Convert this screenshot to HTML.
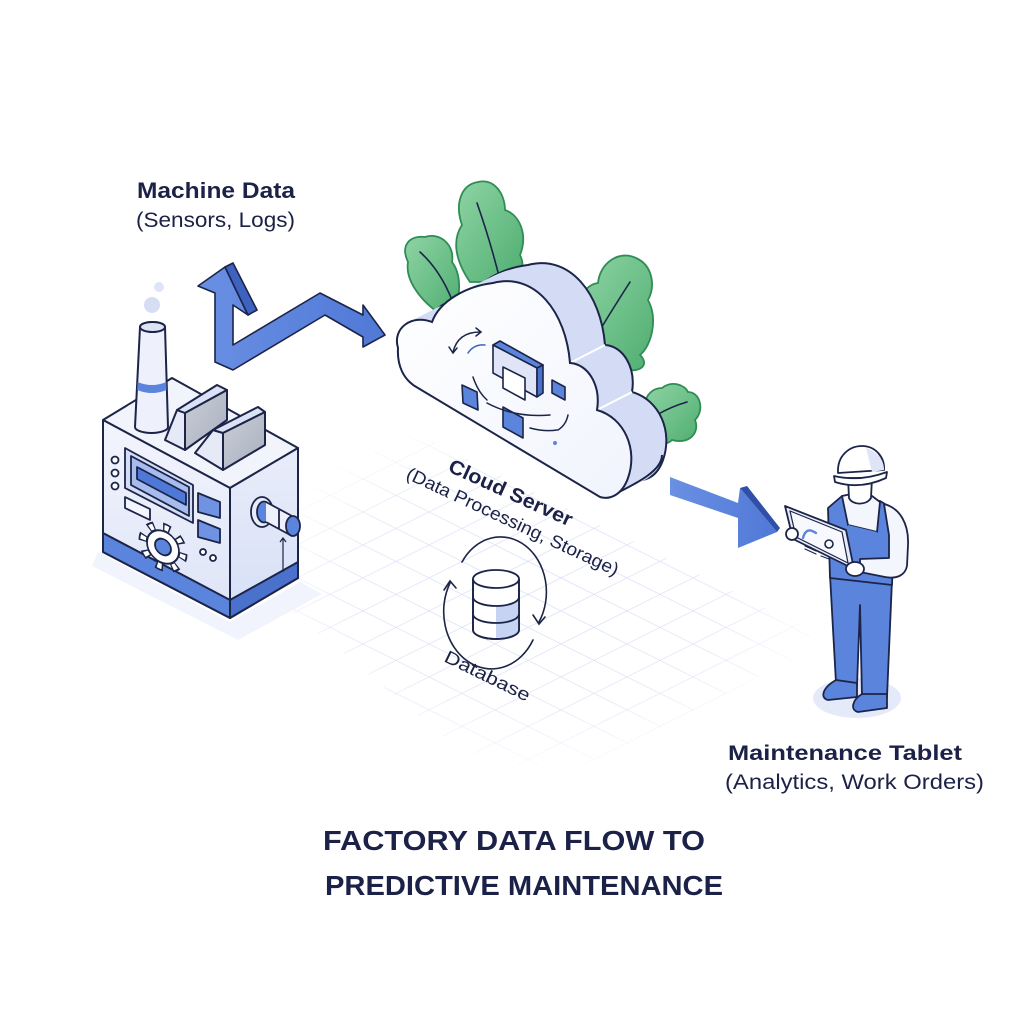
<!DOCTYPE html>
<html><head><meta charset="utf-8"><style>
html,body{margin:0;padding:0;background:#fff;}
svg{display:block;}
text{font-family:"Liberation Sans",sans-serif;fill:#1b2147;}
</style></head><body>
<svg width="1024" height="1024" viewBox="0 0 1024 1024" xmlns="http://www.w3.org/2000/svg">
<defs>
  <pattern id="grid" width="33" height="33" patternUnits="userSpaceOnUse" patternTransform="matrix(1,0.5,-1,0.5,0,0)">
    <path d="M0,0 H33 M0,0 V33" stroke="#d3dbf4" stroke-width="1.5" fill="none"/>
  </pattern>
  <radialGradient id="fade" cx="0.5" cy="0.5" r="0.5">
    <stop offset="0" stop-color="#fff" stop-opacity="1"/>
    <stop offset="0.65" stop-color="#fff" stop-opacity="0.75"/>
    <stop offset="1" stop-color="#fff" stop-opacity="0"/>
  </radialGradient>
  <mask id="gmask"><ellipse cx="540" cy="590" rx="300" ry="185" fill="url(#fade)"/></mask>
  <linearGradient id="frontF" x1="0" y1="0" x2="0" y2="1">
    <stop offset="0" stop-color="#f3f5fd"/><stop offset="1" stop-color="#dde4f7"/>
  </linearGradient>
  <linearGradient id="rightF" x1="0" y1="0" x2="0" y2="1">
    <stop offset="0" stop-color="#e9edfa"/><stop offset="1" stop-color="#d6dff6"/>
  </linearGradient>
  <linearGradient id="gray" x1="0" y1="0" x2="1" y2="1">
    <stop offset="0" stop-color="#c9ced9"/><stop offset="1" stop-color="#a9afbd"/>
  </linearGradient>
  <linearGradient id="leaf" x1="0" y1="0" x2="1" y2="1">
    <stop offset="0" stop-color="#8fd4a5"/><stop offset="1" stop-color="#4fae70"/>
  </linearGradient>
  <linearGradient id="cloudF" x1="0" y1="0" x2="1" y2="1">
    <stop offset="0" stop-color="#ffffff"/><stop offset="1" stop-color="#f1f4fd"/>
  </linearGradient>
  <linearGradient id="arrowG" x1="0" y1="0" x2="1" y2="0">
    <stop offset="0" stop-color="#6a90e3"/><stop offset="1" stop-color="#5078d6"/>
  </linearGradient>
  <path id="cloud" d="M398,348 C392,328 412,314 432,322 C440,300 468,286 493,283 C535,272 566,312 570,363 C588,364 601,385 597,410 C625,418 638,450 628,478 C622,495 610,500 600,497 L418,388 C403,380 397,365 398,348 Z"/>
</defs>

<rect width="1024" height="1024" fill="#fff"/>

<!-- Grid -->
<g mask="url(#gmask)">
  <polygon points="370,410 830,640 520,800 230,560" fill="url(#grid)"/>
</g>

<!-- Factory ground shadow -->
<polygon points="98,552 230,622 300,582 322,594 238,640 92,566" fill="#e7ecfa" opacity="0.6"/>

<!-- Factory arrow -->
<g stroke="#1c2448" stroke-width="1.6" stroke-linejoin="round">
  <polygon points="215,362 215,293 198,286 225,267 248,315 233,305 233,345 320,293 363,315 363,305 385,335 363,347 363,337 325,315 233,370" fill="url(#arrowG)"/>
  <polygon points="225,267 233,263 257,310 248,315" fill="#3d62bf"/>
</g>

<!-- Smoke -->
<circle cx="159" cy="287" r="5" fill="#dfe5f8"/>
<circle cx="152" cy="305" r="8" fill="#d6def6"/>

<!-- Factory box -->
<g stroke="#1c2448" stroke-width="2" stroke-linejoin="round">
  <polygon points="103,420 172,378 298,448 230,488" fill="#f2f4fc"/>
  <polygon points="103,420 230,488 230,618 103,552" fill="url(#frontF)"/>
  <polygon points="230,488 298,448 298,578 230,618" fill="url(#rightF)"/>
  <polygon points="103,533 230,600 230,618 103,552" fill="#5b84dc"/>
  <polygon points="230,600 298,562 298,578 230,618" fill="#4a71cc"/>
</g>
<!-- Chimney -->
<g stroke="#1c2448" stroke-width="2">
  <path d="M135,427 L140,327 A12.5,5 0 0 1 165,327 L168,427 A16.5,6 0 0 1 135,427 Z" fill="#eef1fb"/>
  <ellipse cx="152.5" cy="327" rx="12.5" ry="5" fill="#dde3f5"/>
</g>
<path d="M137.6,382 Q152,388 166.2,382 L166.5,390 Q152,396 137.2,390 Z" fill="#5b84dc"/>
<!-- Vents -->
<g stroke="#1c2448" stroke-width="2" stroke-linejoin="round">
  <polygon points="165,440 177,410 185,413 185,450" fill="#e6eaf6"/>
  <polygon points="177,410 217,385 227,390 185,413" fill="#dbe2f6"/>
  <polygon points="185,413 227,390 227,420 185,450" fill="url(#gray)"/>
  <polygon points="195,453 213,430 223,433 223,470" fill="#e6eaf6"/>
  <polygon points="213,430 258,407 265,412 223,433" fill="#dbe2f6"/>
  <polygon points="223,433 265,412 265,445 223,470" fill="url(#gray)"/>
</g>
<!-- Front panel details -->
<g stroke="#1c2448" stroke-width="1.8" stroke-linejoin="round">
  <polygon points="125,448 193,485 193,523 125,488" fill="#d3ddf6"/>
  <polygon points="131,456 189,487 189,516 131,485" fill="#a7bcee"/>
  <polygon points="137,467 186,493 186,505 137,479" fill="#4f79d8"/>
  <polygon points="125,497 150,509 150,520 125,508" fill="#f4f6fd"/>
  <circle cx="115" cy="460" r="3.5" fill="#fff"/>
  <circle cx="115" cy="473" r="3.5" fill="#fff"/>
  <circle cx="115" cy="486" r="3.5" fill="#fff"/>
  <polygon points="198,493 220,502 220,518 198,512" fill="#6f93e2"/>
  <polygon points="198,520 220,529 220,543 198,537" fill="#6f93e2"/>
  <circle cx="203" cy="552" r="3" fill="#fff"/>
  <circle cx="213" cy="558" r="3" fill="#fff"/>
</g>
<!-- Gear -->
<g transform="translate(163,547) matrix(1,0.3,0,1,0,0)">
  <circle r="20" fill="none" stroke="#1c2448" stroke-width="9" stroke-dasharray="7 8.7"/>
  <circle r="20" fill="none" stroke="#fff" stroke-width="5.5" stroke-dasharray="4.2 11.5" stroke-dashoffset="-1.4"/>
  <circle r="16" fill="#fff" stroke="#1c2448" stroke-width="1.8"/>
  <circle r="8" fill="#5b84dc" stroke="#1c2448" stroke-width="1.8"/>
</g>
<!-- Knob -->
<g stroke="#1c2448" stroke-width="1.8">
  <ellipse cx="262" cy="512" rx="11" ry="15" fill="#e8edfa"/>
  <ellipse cx="264" cy="512" rx="7" ry="10.5" fill="#5b84dc"/>
  <polygon points="266,502 292,516 292,536 266,522" fill="#eef1fb" stroke="none"/>
  <path d="M266,502 L292,516 M266,522 L292,536 M279,509 L279,529" fill="none"/>
  <ellipse cx="293" cy="526" rx="7" ry="10" fill="#5b84dc"/>
  <path d="M283,538 L283,572 M280,542 L283,538 L286,542" fill="none" stroke-width="1.2"/>
</g>

<!-- Leaves -->
<g stroke="#2f8c55" stroke-width="1.8" fill="url(#leaf)">
  <path d="M470,282 C455,260 452,240 462,225 C455,205 460,185 478,182 C495,178 505,195 505,210 C520,215 528,235 520,255 C525,265 522,275 515,282 Z"/>
  <path d="M440,314 C420,300 405,280 408,262 C400,245 410,235 425,237 C440,232 455,245 452,262 C462,275 460,295 455,312 Z"/>
  <path d="M580,322 C575,300 585,285 598,283 C600,262 620,250 636,258 C652,265 656,285 648,300 C658,318 652,345 640,355 C650,365 640,372 628,370 L600,342 Z"/>
  <path d="M648,432 C638,410 645,388 662,388 C672,380 685,385 688,392 C700,392 705,410 695,420 C700,432 690,445 672,440 C665,447 650,445 648,432 Z"/>
</g>
<g stroke="#1c2448" stroke-width="1.6" fill="none" stroke-linecap="round">
  <path d="M477,203 Q490,240 500,280"/>
  <path d="M420,252 Q440,270 452,300"/>
  <path d="M630,282 Q612,310 600,330"/>
  <path d="M687,402 Q670,407 657,415"/>
</g>

<!-- Cloud extrusion -->
<g fill="#d4dcf5">
  <use href="#cloud" transform="translate(35,-18)" stroke="#1c2448" stroke-width="2"/>
  <use href="#cloud" transform="translate(31,-16)"/>
  <use href="#cloud" transform="translate(27,-14)"/>
  <use href="#cloud" transform="translate(23,-12)"/>
  <use href="#cloud" transform="translate(19,-10)"/>
  <use href="#cloud" transform="translate(15,-8)"/>
  <use href="#cloud" transform="translate(11,-6)"/>
  <use href="#cloud" transform="translate(7,-4)"/>
  <use href="#cloud" transform="translate(3,-2)"/>
</g>
<path d="M570,363 L605,345 M597,410 L632,392" stroke="#fff" stroke-width="2"/>
<path d="M609,497 C640,482 662,470 662,455" fill="none" stroke="#1c2448" stroke-width="2"/>
<use href="#cloud" fill="url(#cloudF)" stroke="#1c2448" stroke-width="2"/>

<!-- Cloud icons -->
<g stroke="#1c2448" stroke-width="1.6" stroke-linejoin="round">
  <polygon points="493,345 500,341 543,365 537,368" fill="#5b84dc"/>
  <polygon points="493,345 537,368 537,397 493,373" fill="#dfe5f7"/>
  <polygon points="537,368 543,365 543,393 537,397" fill="#4a71cc"/>
  <polygon points="503,367 525,378 525,400 503,388" fill="#fff"/>
  <polygon points="462,385 477,392 478,410 463,403" fill="#5b84dc"/>
  <polygon points="503,407 523,418 523,438 503,427" fill="#5b84dc"/>
  <polygon points="552,380 565,387 565,400 552,393" fill="#5b84dc"/>
</g>
<g fill="none" stroke="#1c2448" stroke-width="1.5" stroke-linecap="round">
  <path d="M453,352 Q458,332 480,332"/>
  <path d="M476,328 L481,332 L476,336 M449,347 L453,353 L457,348"/>
  <path d="M468,353 Q474,344 485,345" stroke="#3f64c0"/>
  <path d="M473,377 Q478,392 487,400"/>
  <path d="M487,403 Q515,418 550,415"/>
  <path d="M530,428 Q545,432 557,430"/>
  <path d="M568,415 Q566,425 558,430"/>
</g>
<circle cx="555" cy="443" r="2" fill="#5b84dc"/>

<!-- Database -->
<g stroke="#1c2448" stroke-width="1.8">
  <path d="M473,579 L473,630 A23,9 0 0 0 519,630 L519,579" fill="#fff"/>
  <path d="M496,606 L496,638 A23,9 0 0 0 519,630 L519,600 A23,9 0 0 1 496,606 Z" fill="#c6d3f3" stroke="none"/>
  <path d="M473,579 L473,630 A23,9 0 0 0 519,630 L519,579" fill="none"/>
  <ellipse cx="496" cy="579" rx="23" ry="9" fill="#fff"/>
  <path d="M473,597 A23,9 0 0 0 519,597 M473,614 A23,9 0 0 0 519,614" fill="none"/>
</g>
<g fill="none" stroke="#1c2448" stroke-width="1.6" stroke-linecap="round">
  <path d="M462,562 A45,54 0 0 1 539,622"/>
  <path d="M533,615 L539,624 L545,617"/>
  <path d="M533,640 A45,54 0 0 1 450,583"/>
  <path d="M444,590 L450,581 L456,588"/>
</g>

<!-- Arrow to worker -->
<polygon points="670,477 738,503 740,488 777,532 738,548 738,518 670,495" fill="url(#arrowG)"/>
<polygon points="740,488 747,486 780,528 777,532" fill="#2f4fa8"/>

<!-- Worker -->
<ellipse cx="857" cy="698" rx="44" ry="20" fill="#e5eafa"/>
<g stroke="#1c2448" stroke-width="1.8" stroke-linejoin="round">
  <!-- legs -->
  <path d="M830,575 L836,683 L857,686 L860,605 L862,697 L887,697 L892,580 Z" fill="#5b84dc"/>
  <!-- boots -->
  <path d="M836,680 L857,683 L857,697 L828,700 C820,698 822,688 836,680 Z" fill="#5b84dc"/>
  <path d="M862,694 L887,694 L887,708 L858,712 C850,710 852,700 862,694 Z" fill="#5b84dc"/>
  <!-- torso -->
  <polygon points="828,508 842,496 880,501 895,510 892,585 830,578" fill="#5b84dc"/>
  <polygon points="842,496 856,493 872,496 880,502 877,532 848,525" fill="#f4f6fd"/>
  <polygon points="848,525 877,532 878,545 849,538" fill="#5b84dc" stroke="none"/>
  <!-- right arm -->
  <path d="M884,504 C900,508 909,524 908,545 L907,566 C905,576 896,579 885,577 L860,572 L860,559 L889,558 L889,535 Z" fill="#f4f6fd"/>
  <!-- head -->
  <path d="M848,478 L849,498 C852,505 866,506 871,498 L872,478 Z" fill="#fff"/>
  <path d="M838,473 C837,455 850,446 862,446 C876,446 885,458 884,470 Z" fill="#fff"/>
  <path d="M866,448 C878,452 884,460 884,470 L872,472 Z" fill="#dfe5f7" stroke="none"/>
  <path d="M834,476 Q860,482 887,472 L886,478 Q860,490 835,482 Z" fill="#fff"/>
  <!-- tablet -->
  <polygon points="785,506 846,530 854,569 793,539" fill="#e6ebfa"/>
  <polygon points="790,511 842,532 848,563 796,537" fill="#f8f9fe" stroke-width="1.2"/>
  <ellipse cx="855" cy="569" rx="9" ry="7" fill="#fff"/>
  <ellipse cx="792" cy="534" rx="6" ry="6" fill="#fff"/>
</g>
<g fill="none" stroke-width="1.6" stroke-linecap="round">
  <path d="M803,538 Q806,526 816,533" stroke="#5b84dc" stroke-width="2.4"/>
  <circle cx="829" cy="544" r="4" stroke="#1c2448"/>
  <path d="M805,546 L816,551 M805,549 L816,554 M821,556 L829,559" stroke="#1c2448" stroke-width="1.2"/>
</g>

<!-- Labels -->
<text x="137" y="198" font-size="22" font-weight="bold" textLength="158" lengthAdjust="spacingAndGlyphs">Machine Data</text>
<text x="136" y="227" font-size="21" textLength="159" lengthAdjust="spacingAndGlyphs">(Sensors, Logs)</text>

<text transform="translate(447,471) rotate(24.5)" font-size="20" font-weight="bold" textLength="134" lengthAdjust="spacingAndGlyphs">Cloud Server</text>
<text transform="translate(405,478) rotate(25)" font-size="18" textLength="232" lengthAdjust="spacingAndGlyphs">(Data Processing, Storage)</text>
<text transform="translate(443,661) rotate(26)" font-size="18" textLength="93" lengthAdjust="spacingAndGlyphs">Database</text>

<text x="728" y="760" font-size="21" font-weight="bold" textLength="234" lengthAdjust="spacingAndGlyphs">Maintenance Tablet</text>
<text x="725" y="789" font-size="21" textLength="259" lengthAdjust="spacingAndGlyphs">(Analytics, Work Orders)</text>

<text x="323" y="850" font-size="28" font-weight="bold" textLength="382" lengthAdjust="spacingAndGlyphs">FACTORY DATA FLOW TO</text>
<text x="325" y="895" font-size="28" font-weight="bold" textLength="398" lengthAdjust="spacingAndGlyphs">PREDICTIVE MAINTENANCE</text>
</svg>
</body></html>
